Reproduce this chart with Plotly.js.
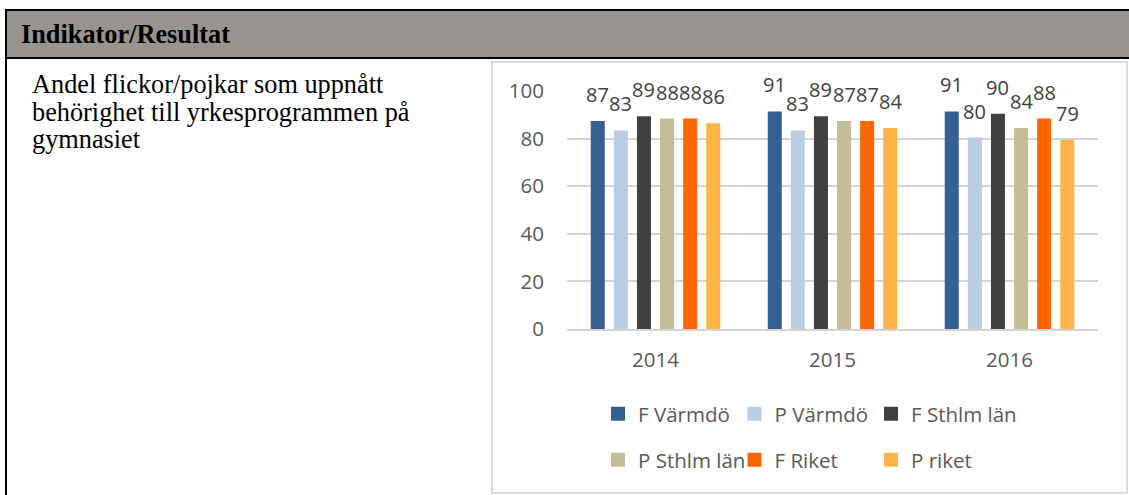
<!DOCTYPE html>
<html>
<head>
<meta charset="utf-8">
<script src="https://cdn.plot.ly/plotly-3.0.1.min.js"></script>
<style>
html,body{margin:0;padding:0;width:1129px;height:495px;overflow:hidden;background:#fff;}
#hdr{position:absolute;left:5px;top:9px;width:1130px;height:46px;background:#98948f;border-top:2px solid #000;border-bottom:2px solid #000;border-left:2px solid #000;}
#lb{position:absolute;left:5px;top:59px;width:2px;height:436px;background:#000;}
#hdrtext{position:absolute;left:21px;top:20px;font-family:'Liberation Serif','Times New Roman',serif;font-weight:bold;font-size:26.3px;line-height:30px;color:#000;white-space:nowrap;}
#celltext{position:absolute;left:32px;top:71.4px;font-family:'Liberation Serif','Times New Roman',serif;font-size:26.3px;line-height:27.5px;color:#000;white-space:nowrap;}
#box{position:absolute;left:491px;top:61px;width:637px;height:433px;box-sizing:border-box;border:2px solid #dcdcdc;background:#fff;}
#chart{position:absolute;left:0;top:0;width:1129px;height:495px;}
</style>
</head>
<body>
<div id="hdr"></div>
<div id="lb"></div>
<div id="hdrtext">Indikator/Resultat</div>
<div id="celltext">Andel flickor/pojkar som uppnått<br>behörighet till yrkesprogrammen på<br>gymnasiet</div>
<div id="box"></div>
<div id="chart"></div>
<script>
// ---- data ----
const years = ['2014', '2015', '2016'];
const seriesNames = ['F Värmdö', 'P Värmdö', 'F Sthlm län', 'P Sthlm län', 'F Riket', 'P riket'];
const fVarmdo = [87, 91, 91];
const pVarmdo = [83, 83, 80];
const fSthlm = [89, 89, 90];
const pSthlm = [88, 87, 84];
const fRiket = [88, 87, 88];
const pRiket = [86, 84, 79];
const seriesColors = ['#356092', '#b9cde5', '#404040', '#c4bd97', '#ff6600', '#ffb347'];
const yTicks = [0, 20, 40, 60, 80, 100];

const seriesValues = [fVarmdo, pVarmdo, fSthlm, pSthlm, fRiket, pRiket];
const bargap = 0.217;
const nSeries = seriesValues.length;

const traces = seriesValues.map((vals, i) => {
  const t = {
    type: 'bar',
    name: seriesNames[i],
    x: years,
    y: vals,
    marker: {color: seriesColors[i], line: {color: seriesColors[i], width: 2}},
    legend: i < 3 ? 'legend' : 'legend2',
    hoverinfo: 'skip'
  };
  if (i % 3 === 2) t.legendwidth = 150;
  return t;
});

const annotations = [];
seriesValues.forEach((vals, i) => {
  vals.forEach((v, j) => {
    const off = -(1 - bargap) / 2 + (i + 0.5) * (1 - bargap) / nSeries;
    annotations.push({
      x: j + off, y: v, xref: 'x', yref: 'y',
      text: String(v), showarrow: false,
      yanchor: 'bottom', yshift: 12,
      font: {family: 'Open Sans', size: 20, color: '#404040'}
    });
  });
});

const legendBase = {
  orientation: 'h', xanchor: 'left', yanchor: 'middle',
  x: 0.0584,
  entrywidth: 91.5, entrywidthmode: 'pixels',
  font: {family: 'Open Sans', size: 20.5, color: '#595959'},
  bgcolor: 'rgba(0,0,0,0)', borderwidth: 0, traceorder: 'normal'
};

const layout = {
  width: 1129, height: 495,
  margin: {l: 567, r: 31, t: 91, b: 166, pad: 0},
  paper_bgcolor: 'rgba(0,0,0,0)', plot_bgcolor: 'rgba(0,0,0,0)',
  barmode: 'group', bargap: bargap, bargroupgap: 0.48,
  font: {family: 'Open Sans', size: 20.5, color: '#595959'},
  showlegend: true,
  xaxis: {
    type: 'category', showgrid: false, zeroline: false,
    showline: true, linecolor: '#d4d4d4', linewidth: 2,
    ticks: '', ticklabelstandoff: 11,
    tickfont: {family: 'Open Sans', size: 20.5, color: '#595959'},
    fixedrange: true
  },
  yaxis: {
    range: [0, 100], tickvals: yTicks, ticktext: yTicks.map(String),
    showgrid: true, gridcolor: '#d4d4d4', gridwidth: 1.8,
    zeroline: false, showline: false, ticks: '', ticklabelstandoff: 22,
    tickfont: {family: 'Open Sans', size: 20.5, color: '#595959'},
    fixedrange: true
  },
  legend: Object.assign({}, legendBase, {y: -0.357}),
  legend2: Object.assign({}, legendBase, {y: -0.55}),
  annotations: annotations
};

Plotly.newPlot('chart', traces, layout, {displayModeBar: false, staticPlot: true});
</script>
</body>
</html>
